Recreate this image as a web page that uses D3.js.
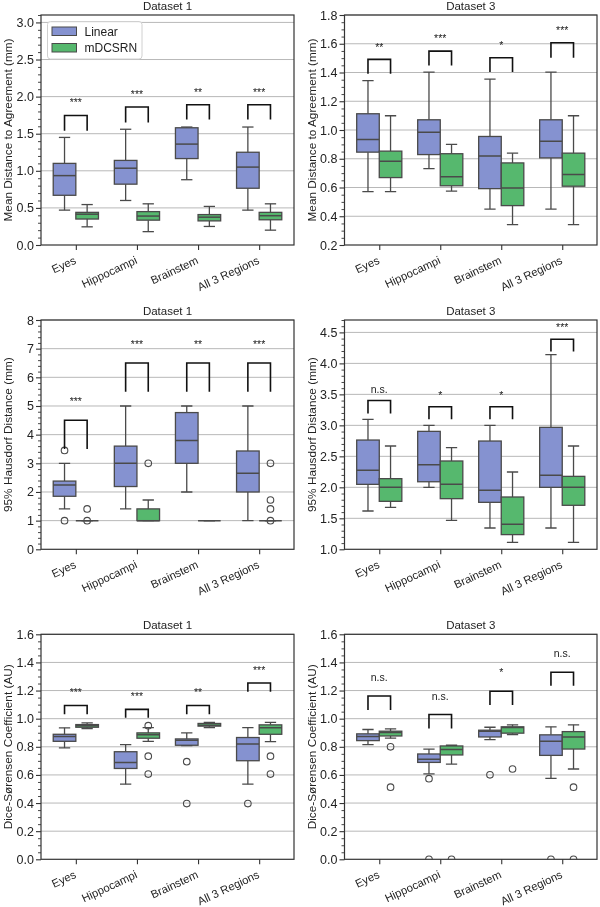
<!DOCTYPE html>
<html>
<head>
<meta charset="utf-8">
<script src="https://cdn.jsdelivr.net/npm/d3@7"></script>
<style>
  body { margin: 0; background: #fff; }
  svg { display: block; font-family: "Liberation Sans", Arial, sans-serif; will-change: transform; }
</style>
</head>
<body>
<div id="chart"></div>
<script>
// ---- data ----
const categories = ['Eyes', 'Hippocampi', 'Brainstem', 'All 3 Regions']
const methods = ['Linear', 'mDCSRN']
const colors = ['#8592d0', '#56b86e']

// box stats per category: [whisker low, Q1, median, Q3, whisker high]
const mdaD1Linear = [[0.47, 0.67, 0.935, 1.10, 1.45], [0.60, 0.82, 1.035, 1.14, 1.56], [0.88, 1.165, 1.36, 1.58, 1.59], [0.47, 0.765, 1.05, 1.25, 1.59]]
const mdaD1Mdcsrn = [[0.245, 0.35, 0.415, 0.44, 0.545], [0.18, 0.335, 0.39, 0.45, 0.555], [0.25, 0.325, 0.375, 0.41, 0.52], [0.20, 0.34, 0.395, 0.44, 0.555]]
const mdaD1Sig = [[1.54, 1.745, 1.96, '***'], [1.65, 1.86, 2.06, '***'], [1.69, 1.89, 2.09, '**'], [1.69, 1.89, 2.09, '***']]

const mdaD3Linear = [[0.572, 0.846, 0.934, 1.113, 1.343], [0.732, 0.829, 0.985, 1.071, 1.403], [0.45, 0.592, 0.82, 0.955, 1.354], [0.45, 0.806, 0.922, 1.071, 1.403]]
const mdaD3Mdcsrn = [[0.572, 0.669, 0.783, 0.853, 1.099], [0.575, 0.612, 0.675, 0.835, 0.90], [0.342, 0.474, 0.597, 0.771, 0.839], [0.342, 0.609, 0.69, 0.839, 1.099]]
const mdaD3Sig = [[1.391, 1.491, 1.59, '**'], [1.449, 1.549, 1.654, '***'], [1.403, 1.503, 1.607, '*'], [1.503, 1.607, 1.712, '***']]

const hdD1Linear = [[1.41, 1.85, 2.24, 2.38, 3.0], [1.41, 2.19, 3.0, 3.6, 5.0], [2.0, 3.0, 3.8, 4.77, 5.0], [1.0, 2.0, 2.65, 3.43, 5.0]]
const hdD1Mdcsrn = [[1, 1, 1, 1, 1], [1.0, 1.0, 1.0, 1.41, 1.72], [1, 1, 1, 1, 1], [1, 1, 1, 1, 1]]
const hdD1LinearOut = [[3.45, 1.0], [], [], []]
const hdD1MdcsrnOut = [[1.41, 1.0], [3.0], [], [3.0, 1.72, 1.41, 1.0]]
const hdD1Sig = [[3.5, 4.5, 5.27, '***'], [5.5, 6.5, 7.26, '***'], [5.5, 6.5, 7.26, '**'], [5.5, 6.5, 7.26, '***']]

const hdD3Linear = [[1.618, 2.048, 2.274, 2.763, 3.097], [2.0, 2.09, 2.366, 2.903, 3.0], [1.344, 1.758, 1.952, 2.747, 3.0], [1.344, 2.0, 2.194, 2.968, 4.14]]
const hdD3Mdcsrn = [[1.677, 1.774, 2.0, 2.14, 2.667], [1.468, 1.817, 2.048, 2.425, 2.64], [1.113, 1.237, 1.403, 1.844, 2.247], [1.113, 1.71, 2.0, 2.177, 2.667]]
const hdD3Sig = [[3.19, 3.40, 3.57, 'n.s.'], [3.10, 3.30, 3.53, '*'], [3.10, 3.30, 3.53, '*'], [4.19, 4.39, 4.63, '***']]

const dscD1Linear = [[0.792, 0.839, 0.873, 0.889, 0.935], [0.534, 0.646, 0.689, 0.765, 0.815], [0.808, 0.811, 0.846, 0.856, 0.899], [0.534, 0.701, 0.82, 0.866, 0.937]]
const dscD1Mdcsrn = [[0.93, 0.939, 0.949, 0.958, 0.97], [0.839, 0.861, 0.885, 0.899, 0.937], [0.937, 0.947, 0.954, 0.966, 0.973], [0.837, 0.889, 0.935, 0.956, 0.973]]
const dscD1LinearOut = [[], [], [0.694, 0.396], [0.396]]
const dscD1MdcsrnOut = [[], [0.95, 0.733, 0.606], [], [0.733, 0.606]]
const dscD1Sig = [[1.032, 1.094, 1.204, '***'], [1.006, 1.066, 1.175, '***'], [1.032, 1.094, 1.204, '**'], [1.192, 1.254, 1.366, '***']]

const dscD3Linear = [[0.815, 0.844, 0.873, 0.892, 0.923], [0.608, 0.689, 0.711, 0.749, 0.784], [0.851, 0.870, 0.911, 0.918, 0.939], [0.575, 0.739, 0.839, 0.885, 0.942]]
const dscD3Mdcsrn = [[0.861, 0.877, 0.901, 0.911, 0.928], [0.677, 0.742, 0.78, 0.806, 0.811], [0.887, 0.897, 0.937, 0.942, 0.956], [0.642, 0.784, 0.87, 0.908, 0.956]]
const dscD3LinearOut = [[], [0.573, 0], [0.601], [0]]
const dscD3MdcsrnOut = [[0.80, 0.513], [0], [0.642], [0.513, 0]]
const dscD3Sig = [[1.061, 1.161, 1.29, 'n.s.'], [0.93, 1.03, 1.156, 'n.s.'], [1.097, 1.195, 1.35, '*'], [1.235, 1.33, 1.46, 'n.s.']]

const mdaTicks = [0, 0.5, 1.0, 1.5, 2.0, 2.5, 3.0]
const mdaD3Ticks = [0.2, 0.4, 0.6, 0.8, 1.0, 1.2, 1.4, 1.6, 1.8]
const hdD1Ticks = [0, 1, 2, 3, 4, 5, 6, 7, 8]
const hdD3Ticks = [1.0, 1.5, 2.0, 2.5, 3.0, 3.5, 4.0, 4.5]
const dscTicks = [0, 0.2, 0.4, 0.6, 0.8, 1.0, 1.2, 1.4, 1.6]

const none = [[], [], [], []]

const panels = [
    { row: 0, col: 0, title: 'Dataset 1', label: 'Mean Distance to Agreement (mm)', domain: [0, 3.1], ticks: mdaTicks, fmt: '.1f', ndiv: 5, series: [mdaD1Linear, mdaD1Mdcsrn], out: [none, none], sig: mdaD1Sig, legend: true },
    { row: 0, col: 1, title: 'Dataset 3', label: 'Mean Distance to Agreement (mm)', domain: [0.2, 1.8], ticks: mdaD3Ticks, fmt: '.1f', ndiv: 4, series: [mdaD3Linear, mdaD3Mdcsrn], out: [none, none], sig: mdaD3Sig },
    { row: 1, col: 0, title: 'Dataset 1', label: '95% Hausdorf Distance (mm)', domain: [0, 8], ticks: hdD1Ticks, fmt: 'd', ndiv: 5, series: [hdD1Linear, hdD1Mdcsrn], out: [hdD1LinearOut, hdD1MdcsrnOut], sig: hdD1Sig },
    { row: 1, col: 1, title: 'Dataset 3', label: '95% Hausdorf Distance (mm)', domain: [1.0, 4.7], ticks: hdD3Ticks, fmt: '.1f', ndiv: 5, series: [hdD3Linear, hdD3Mdcsrn], out: [none, none], sig: hdD3Sig },
    { row: 2, col: 0, title: 'Dataset 1', label: 'Dice-Sørensen Coefficient (AU)', domain: [0, 1.6], ticks: dscTicks, fmt: '.1f', ndiv: 4, series: [dscD1Linear, dscD1Mdcsrn], out: [dscD1LinearOut, dscD1MdcsrnOut], sig: dscD1Sig },
    { row: 2, col: 1, title: 'Dataset 3', label: 'Dice-Sørensen Coefficient (AU)', domain: [0, 1.6], ticks: dscTicks, fmt: '.1f', ndiv: 4, series: [dscD3Linear, dscD3Mdcsrn], out: [dscD3LinearOut, dscD3MdcsrnOut], sig: dscD3Sig }
]

// ---- layout ----
const W = 600, H = 907
const rowsY = [[15, 245], [320, 549.3], [634.3, 859.3]]
const colsX = [[41, 294], [344.5, 597]]
const boxW = 0.37
const edge = '#4a4a4a'

const svg = d3.select('#chart').append('svg')
    .attr('width', W).attr('height', H)
    .attr('viewBox', `0 0 ${W} ${H}`)

panels.forEach((p, pi) => drawPanel(p, pi))

function drawPanel(p, pi) {
    const [x0, x1] = colsX[p.col]
    const [y0, y1] = rowsY[p.row]
    const x = d3.scaleLinear().domain([-0.57, 3.57]).range([x0, x1])
    const y = d3.scaleLinear().domain(p.domain).range([y1, y0])
    const g = svg.append('g')

    const clipId = 'clip' + pi
    g.append('clipPath').attr('id', clipId)
        .append('rect').attr('x', x0).attr('y', y0).attr('width', x1 - x0).attr('height', y1 - y0)

    // grid
    g.append('g').selectAll('line')
        .data(p.ticks.filter(t => t > p.domain[0]))
        .join('line')
        .attr('x1', x0).attr('x2', x1)
        .attr('y1', d => y(d)).attr('y2', d => y(d))
        .attr('stroke', '#b8b8b8').attr('stroke-width', 1)

    // boxes
    const plot = g.append('g').attr('clip-path', `url(#${clipId})`)
    p.series.forEach((stats, si) => {
        const off = si === 0 ? -boxW / 2 : boxW / 2
        stats.forEach((s, ci) => {
            const cx = x(ci + off)
            const hw = (x(boxW) - x(0)) / 2
            const [lo, q1, med, q3, hi] = s
            const bg = plot.append('g')
            bg.append('line').attr('x1', cx).attr('x2', cx).attr('y1', y(q3)).attr('y2', y(hi))
                .attr('stroke', edge).attr('stroke-width', 1.3)
            bg.append('line').attr('x1', cx).attr('x2', cx).attr('y1', y(q1)).attr('y2', y(lo))
                .attr('stroke', edge).attr('stroke-width', 1.3)
            bg.append('line').attr('x1', cx - hw / 2).attr('x2', cx + hw / 2).attr('y1', y(hi)).attr('y2', y(hi))
                .attr('stroke', edge).attr('stroke-width', 1.3)
            bg.append('line').attr('x1', cx - hw / 2).attr('x2', cx + hw / 2).attr('y1', y(lo)).attr('y2', y(lo))
                .attr('stroke', edge).attr('stroke-width', 1.3)
            bg.append('rect').attr('x', cx - hw).attr('width', 2 * hw)
                .attr('y', y(q3)).attr('height', Math.max(0, y(q1) - y(q3)))
                .attr('fill', colors[si]).attr('stroke', edge).attr('stroke-width', 1.3)
            bg.append('line').attr('x1', cx - hw).attr('x2', cx + hw).attr('y1', y(med)).attr('y2', y(med))
                .attr('stroke', edge).attr('stroke-width', 1.5)
            bg.selectAll('circle').data(p.out[si][ci]).join('circle')
                .attr('cx', cx).attr('cy', d => y(d)).attr('r', 3.3)
                .attr('fill', 'none').attr('stroke', edge).attr('stroke-width', 1.1)
        })
    })

    // significance brackets
    p.sig.forEach((b, ci) => {
        const [bot, top, ty, label] = b
        const xa = x(ci - boxW / 2), xb = x(ci + boxW / 2)
        g.append('path')
            .attr('d', `M${xa},${y(bot)}V${y(top)}H${xb}V${y(bot)}`)
            .attr('fill', 'none').attr('stroke', '#111').attr('stroke-width', 1.6)
        g.append('text')
            .attr('x', x(ci)).attr('y', y(ty))
            .attr('dy', label.includes('*') ? '0.6em' : '0.3em')
            .attr('text-anchor', 'middle').attr('font-size', 10.5).attr('fill', '#222')
            .text(label)
    })

    // y axis
    const minor = []
    for (let i = 0; i < p.ticks.length - 1; i++) {
        const step = (p.ticks[i + 1] - p.ticks[i]) / p.ndiv
        for (let k = 1; k < p.ndiv; k++) minor.push(p.ticks[i] + k * step)
    }
    const top = p.ticks[p.ticks.length - 1]
    for (let v = top + (p.ticks[1] - p.ticks[0]) / p.ndiv; v <= p.domain[1] + 1e-9; v += (p.ticks[1] - p.ticks[0]) / p.ndiv) minor.push(v)

    const ya = g.append('g').attr('transform', `translate(${x0},0)`)
        .call(d3.axisLeft(y).tickValues(p.ticks).tickFormat(d3.format(p.fmt)).tickSize(5).tickPadding(2))
    ya.select('.domain').remove()
    ya.selectAll('line').attr('stroke', '#333').attr('stroke-width', 1.1)
    ya.selectAll('text').attr('font-size', 12.5).attr('fill', '#222').attr('font-family', '"Liberation Sans", Arial, sans-serif')

    const ym = g.append('g').attr('transform', `translate(${x0},0)`)
        .call(d3.axisLeft(y).tickValues(minor).tickFormat('').tickSize(3))
    ym.select('.domain').remove()
    ym.selectAll('line').attr('stroke', '#333').attr('stroke-width', 0.9)

    // x axis
    const xa = g.append('g').attr('transform', `translate(0,${y1})`)
        .call(d3.axisBottom(x).tickValues([0, 1, 2, 3]).tickFormat('').tickSize(5))
    xa.select('.domain').remove()
    xa.selectAll('line').attr('stroke', '#333').attr('stroke-width', 1.1)

    g.append('g').selectAll('text')
        .data(categories)
        .join('text')
        .attr('transform', (d, i) => `translate(${x(i) + 1},${y1 + 18}) rotate(-25)`)
        .attr('text-anchor', 'end')
        .attr('font-size', 11.3).attr('fill', '#222')
        .text(d => d)

    // frame
    g.append('rect').attr('x', x0).attr('y', y0).attr('width', x1 - x0).attr('height', y1 - y0)
        .attr('fill', 'none').attr('stroke', '#333').attr('stroke-width', 1.2)

    // title and y label
    g.append('text').attr('x', (x0 + x1) / 2).attr('y', y0 - 5)
        .attr('text-anchor', 'middle').attr('font-size', 11.5).attr('fill', '#222')
        .text(p.title)
    g.append('text')
        .attr('transform', `translate(${x0 - 29},${(y0 + y1) / 2}) rotate(-90)`)
        .attr('text-anchor', 'middle').attr('font-size', 11.8).attr('fill', '#222')
        .text(p.label)

    if (p.legend) {
        const lg = g.append('g').attr('transform', `translate(${x0 + 6.5},${y0 + 6.5})`)
        lg.append('rect').attr('width', 94.5).attr('height', 37.5).attr('rx', 3)
            .attr('fill', 'rgba(255,255,255,0.85)').attr('stroke', '#d0d0d0')
        methods.forEach((m, i) => {
            lg.append('rect').attr('x', 4.5).attr('y', 5.5 + i * 16.5).attr('width', 24.5).attr('height', 8.5)
                .attr('fill', colors[i]).attr('stroke', edge).attr('stroke-width', 1)
            lg.append('text').attr('x', 37).attr('y', 14 + i * 16.5)
                .attr('font-size', 12).attr('fill', '#222').text(m)
        })
    }
}
</script>
</body>
</html>
